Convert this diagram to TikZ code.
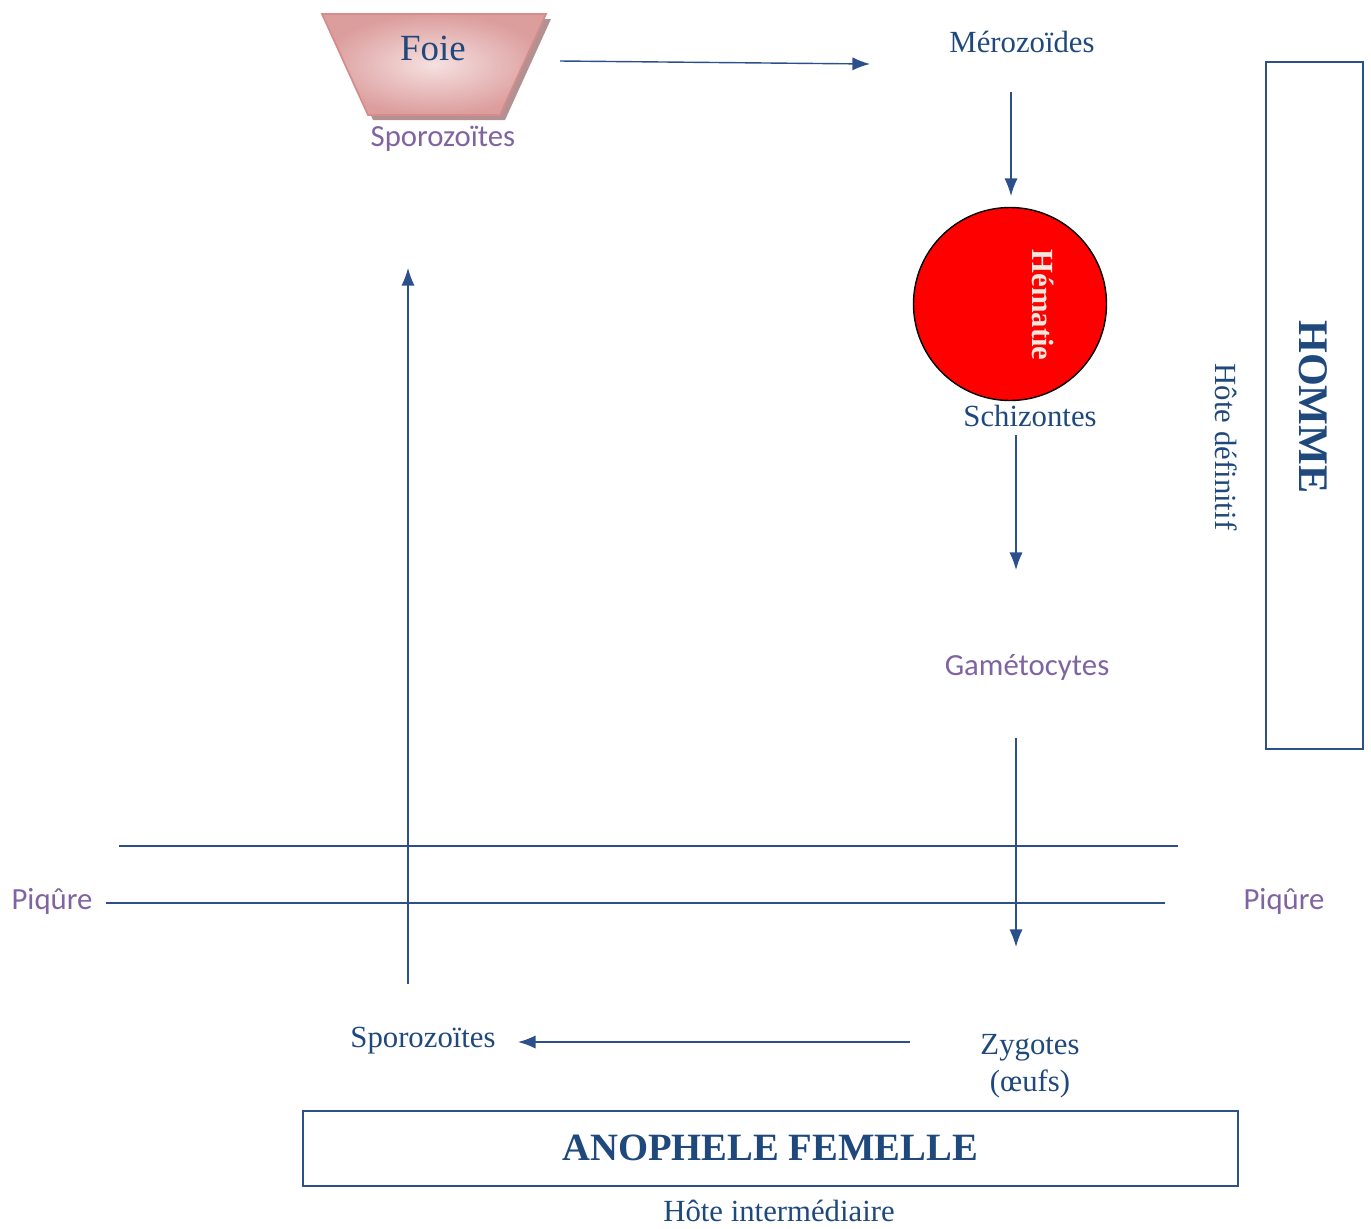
\documentclass[tikz,border=0pt]{standalone}
\usepackage{fontspec}
\setmainfont{Liberation Serif}
\newfontfamily\calibrifont{Carlito}
\usepackage{xcolor}
\usepackage{tikz}
\usetikzlibrary{arrows.meta}

\begin{document}
\begin{tikzpicture}[x = {(0.02cm,0cm)},
                    y = {(0cm,-0.02cm)}]

  \useasboundingbox (0,0) rectangle (1371,1228);

  % COLORS
  \definecolor{textcolor_c}{RGB}{31,73,125}
  \definecolor{linecolor_c}{RGB}{44,80,140}
  \definecolor{purplecolor_c}{RGB}{128,100,162}
  \definecolor{liveredge_c}{RGB}{214,140,140}
  \definecolor{liverfill_c}{RGB}{246,224,224}
  \definecolor{livershadow_c}{RGB}{180,145,145}
  \definecolor{cellfill_c}{RGB}{255,0,0}
  \definecolor{celltext_c}{RGB}{244,232,222}


  % STYLES
  \tikzstyle{labelstyle_c} = [text=textcolor_c, font=\fontsize{17.5}{21}\selectfont, inner sep=0pt, align=center]
  \tikzstyle{stagestyle_c} = [text=purplecolor_c, font=\calibrifont\fontsize{17.5}{21}\selectfont, inner sep=0pt]
  \tikzstyle{arrowstyle_c} = [draw=linecolor_c, line width=0.8pt, -{Latex[length=10pt, width=7.5pt]}]
  \tikzstyle{linestyle_c} = [draw=linecolor_c, line width=0.8pt]
  \tikzstyle{hoststyle_c} = [draw=linecolor_c, line width=1.4pt]


  % DEF POINTS
  \coordinate (foie_out) at (560, 61);
  \coordinate (mero_in) at (870, 64);
  \coordinate (mero_out) at (1011, 92);
  \coordinate (hema_in) at (1011, 196);
  \coordinate (schi_out) at (1016, 435);
  \coordinate (game_in) at (1016, 570);
  \coordinate (game_out) at (1016, 738);
  \coordinate (zygo_in) at (1016, 947);
  \coordinate (zygo_out) at (910, 1042);
  \coordinate (sporo_in) at (518, 1042);
  \coordinate (sporo_out) at (408, 984);
  \coordinate (foie_in) at (408, 268);
  \coordinate (skin_a1) at (119, 846);
  \coordinate (skin_a2) at (1178, 846);
  \coordinate (skin_b1) at (106, 903);
  \coordinate (skin_b2) at (1165, 903);


  % LIVER
  \fill[livershadow_c] (327, 19) -- (551, 19) -- (505, 120) -- (373, 120) -- cycle;
  \shade[inner color=liverfill_c, outer color=liveredge_c!85, shading=radial, draw=liveredge_c, line width=1pt]
    (322, 14) -- (546, 14) -- (500, 115) -- (368, 115) -- cycle;
  \node[labelstyle_c, font=\fontsize{21}{25}\selectfont] (foie) at (433, 48) {Foie};
  \node[stagestyle_c] (sporo_top) at (443, 139) {Sporozoïtes};


  % BLOOD
  \node[labelstyle_c] (mero) at (1022, 42) {Mérozoïdes};
  \node[circle, draw=black, line width=0.8pt, fill=cellfill_c, minimum size=193*0.02cm, inner sep=0pt] (hema) at (1010, 304) {};
  \node[text=celltext_c, font=\bfseries\fontsize{17.5}{21}\selectfont, rotate=-90, inner sep=0pt] (hema_txt) at (1043, 305) {Hématie};
  \node[labelstyle_c] (schi) at (1030, 416) {Schizontes};
  \node[stagestyle_c] (game) at (1027, 667) {Gamétocytes};


  % MOSQUITO
  \node[labelstyle_c] (zygo) at (1030, 1066) {Zygotes\\(œufs)};
  \node[labelstyle_c] (sporo_bot) at (423, 1041) {Sporozoïtes};


  % SKIN
  \draw[linestyle_c] (skin_a1) -- (skin_a2);
  \draw[linestyle_c] (skin_b1) -- (skin_b2);
  \node[stagestyle_c] (piq_l) at (52, 901) {Piqûre};
  \node[stagestyle_c] (piq_r) at (1284, 901) {Piqûre};


  % HOSTS
  \draw[hoststyle_c] (1266, 62) rectangle (1363, 749);
  \node[labelstyle_c, font=\bfseries\fontsize{24}{28}\selectfont, rotate=-90] (homme) at (1313, 407) {HOMME};
  \node[labelstyle_c, rotate=-90] (hote_def) at (1226, 447) {Hôte définitif};
  \draw[hoststyle_c] (303, 1111) rectangle (1238, 1186);
  \node[labelstyle_c, font=\bfseries\fontsize{22}{26}\selectfont] (anoph) at (770, 1148) {ANOPHELE FEMELLE};
  \node[labelstyle_c] (hote_int) at (779, 1211) {Hôte intermédiaire};


  % ARROWS
  \draw[arrowstyle_c] (foie_out) -- (mero_in);
  \draw[arrowstyle_c] (mero_out) -- (hema_in);
  \draw[arrowstyle_c] (schi_out) -- (game_in);
  \draw[arrowstyle_c] (game_out) -- (zygo_in);
  \draw[arrowstyle_c] (zygo_out) -- (sporo_in);
  \draw[arrowstyle_c] (sporo_out) -- (foie_in);

\end{tikzpicture}
\end{document}
